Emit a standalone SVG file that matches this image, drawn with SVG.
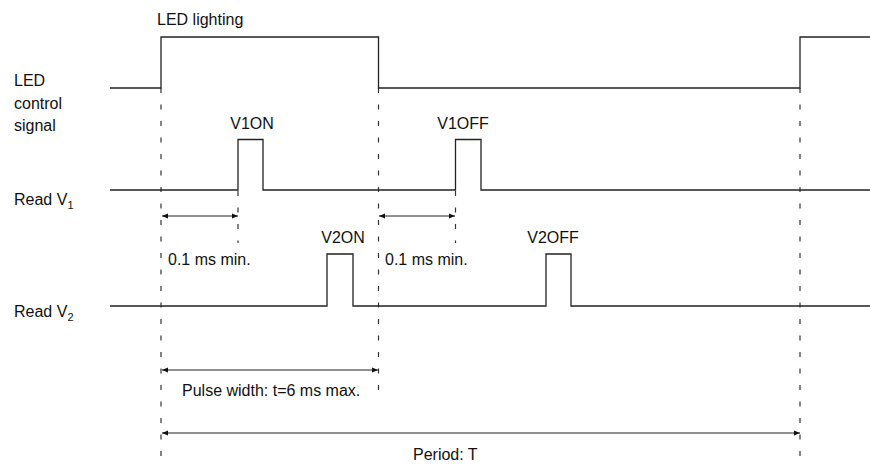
<svg xmlns="http://www.w3.org/2000/svg" width="870" height="464" viewBox="0 0 870 464">
<defs>
<style>
.sig{fill:none;stroke:#222;stroke-width:1.3}
.dash{fill:none;stroke:#333;stroke-width:1.2;stroke-dasharray:5,11.5}
.dim{fill:none;stroke:#222;stroke-width:1}
text{font-family:"Liberation Sans",Arial,sans-serif;font-size:16px;fill:#111}
.sub{font-size:11px}
</style>
<marker id="ah" viewBox="0 0 10 10" refX="10" refY="5" markerWidth="8" markerHeight="6" orient="auto-start-reverse" markerUnits="userSpaceOnUse">
<path d="M0,1 L10,5 L0,9 z" fill="#111"/>
</marker>
</defs>
<rect width="870" height="464" fill="#fff"/>
<g id="connectors">
<line class="dash" x1="161" y1="88" x2="161" y2="464"/>
<line class="dash" x1="378.5" y1="88" x2="378.5" y2="393"/>
<line class="dash" x1="800" y1="88" x2="800" y2="464"/>
<line class="dash" x1="238" y1="191" x2="238" y2="243"/>
<line class="dash" x1="455.5" y1="191" x2="455.5" y2="243"/>
<line class="dim" x1="162" y1="216" x2="238" y2="216" marker-start="url(#ah)" marker-end="url(#ah)"/>
<line class="dim" x1="379" y1="216" x2="455" y2="216" marker-start="url(#ah)" marker-end="url(#ah)"/>
<line class="dim" x1="162" y1="370" x2="378" y2="370" marker-start="url(#ah)" marker-end="url(#ah)"/>
<line class="dim" x1="162" y1="433" x2="800" y2="433" marker-start="url(#ah)" marker-end="url(#ah)"/>
</g>
<g id="led-signal">
<polyline class="sig" points="110,88 161,88 161,37 378.5,37 378.5,88 800,88 800,37 870,37"/>
<text x="157" y="25">LED lighting</text>
<text x="14" y="86">LED</text>
<text x="14" y="109">control</text>
<text x="14" y="131">signal</text>
</g>
<g id="read-v1">
<polyline class="sig" points="110,190 238,190 238,139.5 263,139.5 263,190 455.5,190 455.5,139.5 481,139.5 481,190 870,190"/>
<text x="14" y="205">Read V<tspan class="sub" dy="4">1</tspan></text>
<text x="252" y="129" text-anchor="middle">V1ON</text>
<text x="463" y="129" text-anchor="middle">V1OFF</text>
</g>
<g id="read-v2">
<polyline class="sig" points="110,306 327,306 327,254 353,254 353,306 546,306 546,254 571,254 571,306 870,306"/>
<text x="14" y="317">Read V<tspan class="sub" dy="4">2</tspan></text>
<text x="343" y="243" text-anchor="middle">V2ON</text>
<text x="553" y="243" text-anchor="middle">V2OFF</text>
</g>
<g id="labels">
<text x="168" y="265">0.1 ms min.</text>
<text x="385" y="265">0.1 ms min.</text>
<text x="182" y="396">Pulse width: t=6 ms max.</text>
<text x="413" y="460">Period: T</text>
</g>
</svg>
